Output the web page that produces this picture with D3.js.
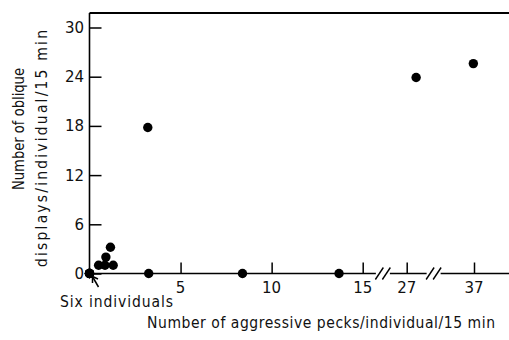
<!DOCTYPE html>
<html>
<head>
<meta charset="utf-8">
<style>
body { margin: 0; background: #fff; }
text { font-family: "DejaVu Sans Condensed", "DejaVu Sans", sans-serif; fill: #111; }
.num { font-family: "DejaVu Sans", sans-serif; }
</style>
</head>
<body>
<div id="chart"></div>
<script src="https://cdnjs.cloudflare.com/ajax/libs/d3/7.8.5/d3.min.js"></script>
<script>
    // aggressive pecks (x) and oblique displays (y), one entry per individual
    var pecks    = [0, 0, 0, 0, 0, 0, 0.5, 0.85, 1.3, 0.9, 1.15, 3.2, 3.25, 8.4, 13.7, 28.4, 36.9];
    var obliques = [0, 0, 0, 0, 0, 0, 1, 1, 1, 2, 3.2, 17.8, 0, 0, 0, 23.9, 25.6];
    var yTicks = [0, 6, 12, 18, 24, 30];
    var xTicks = [5, 10, 15, 27, 37];
    var xBreaks = [20.5, 31];

    var w = 509, h = 340;
    var margin = {top: 13, right: 0, bottom: 66.5, left: 89.5};

    var svg = d3.select("#chart")
        .append("svg")
        .attr("width", w)
        .attr("height", h);

    // broken x axis: 0-15 wide, then compressed after the breaks
    var xScale = d3.scaleLinear()
        .domain([0, 15, 27, 37])
        .range([margin.left, 362.7, 406.7, 474]);

    var yScale = d3.scaleLinear()
        .domain([0, 30])
        .range([h - margin.bottom, 27.5]);

    var y0 = yScale(0);

    // frame: top line, left axis, bottom axis
    svg.append("line")
       .attr("x1", margin.left).attr("x2", w)
       .attr("y1", margin.top).attr("y2", margin.top)
       .attr("stroke", "#000").attr("stroke-width", 2);

    var yAxis = d3.axisRight(yScale)
        .tickValues(yTicks)
        .tickSize(12)
        .tickFormat("");
    svg.append("g")
       .attr("class", "yAxis")
       .attr("transform", "translate(" + margin.left + ",0)")
       .call(yAxis)
       .call(g => g.select(".domain").remove())
       .call(g => g.selectAll("line").attr("stroke", "#000").attr("stroke-width", 1.5));

    svg.append("line")
       .attr("x1", margin.left).attr("x2", margin.left)
       .attr("y1", margin.top).attr("y2", y0)
       .attr("stroke", "#000").attr("stroke-width", 1.6);

    svg.selectAll(".ylab")
       .data(yTicks)
       .enter().append("text")
       .attr("class", "ylab num")
       .attr("x", 84)
       .attr("y", d => yScale(d) + 5.5)
       .attr("text-anchor", "end")
       .attr("font-size", "15px")
       .text(d => d);

    var xAxis = d3.axisTop(xScale)
        .tickValues(xTicks)
        .tickSize(11)
        .tickFormat("");
    svg.append("g")
       .attr("class", "xAxis")
       .attr("transform", "translate(0," + y0 + ")")
       .call(xAxis)
       .call(g => g.select(".domain").remove())
       .call(g => g.selectAll("line").attr("stroke", "#000").attr("stroke-width", 1.5));

    svg.append("line")
       .attr("x1", margin.left).attr("x2", w)
       .attr("y1", y0).attr("y2", y0)
       .attr("stroke", "#000").attr("stroke-width", 1.5);

    svg.selectAll(".xlab")
       .data(xTicks)
       .enter().append("text")
       .attr("class", "xlab num")
       .attr("x", d => xScale(d))
       .attr("y", y0 + 19.5)
       .attr("text-anchor", "middle")
       .attr("font-size", "15px")
       .text(d => d);

    // axis break marks "//"
    xBreaks.forEach(b => {
        var bx = xScale(b);
        svg.append("rect")
           .attr("x", bx - 7).attr("y", y0 - 2)
           .attr("width", 14).attr("height", 4)
           .attr("fill", "#fff");
        [-3.5, 3.5].forEach(off => {
            svg.append("line")
               .attr("x1", bx + off - 4).attr("y1", y0 + 6)
               .attr("x2", bx + off + 4).attr("y2", y0 - 6)
               .attr("stroke", "#000").attr("stroke-width", 1.4);
        });
    });

    // points
    svg.selectAll(".dot")
       .data(pecks)
       .enter().append("circle")
       .attr("class", "dot")
       .attr("cx", d => xScale(d))
       .attr("cy", (d, i) => yScale(obliques[i]))
       .attr("r", 4.7)
       .attr("fill", "#000");

    // "Six individuals" pointer
    svg.append("line")
       .attr("x1", 98.5).attr("y1", 287)
       .attr("x2", 93).attr("y2", 277.5)
       .attr("stroke", "#000").attr("stroke-width", 1.5);
    svg.append("path")
       .attr("d", "M92.5,283 L92.5,276.5 L98,279")
       .attr("fill", "none")
       .attr("stroke", "#000").attr("stroke-width", 1.5);

    svg.append("text")
       .attr("x", 60)
       .attr("y", 307)
       .attr("font-size", "15.5px")
       .attr("textLength", 113)
       .attr("lengthAdjust", "spacing")
       .text("Six individuals");

    // axis titles
    svg.append("text")
       .attr("x", 147)
       .attr("y", 328)
       .attr("font-size", "15.5px")
       .attr("textLength", 348)
       .attr("lengthAdjust", "spacing")
       .text("Number of aggressive pecks/individual/15 min");

    svg.append("text")
       .attr("transform", "translate(24,190) rotate(-90)")
       .attr("font-size", "15.5px")
       .attr("textLength", 122)
       .attr("lengthAdjust", "spacingAndGlyphs")
       .text("Number of oblique");

    svg.append("text")
       .attr("transform", "translate(47,267) rotate(-90)")
       .attr("font-size", "15.5px")
       .attr("textLength", 237)
       .attr("lengthAdjust", "spacing")
       .text("displays/individual/15 min");
</script>
</body>
</html>
